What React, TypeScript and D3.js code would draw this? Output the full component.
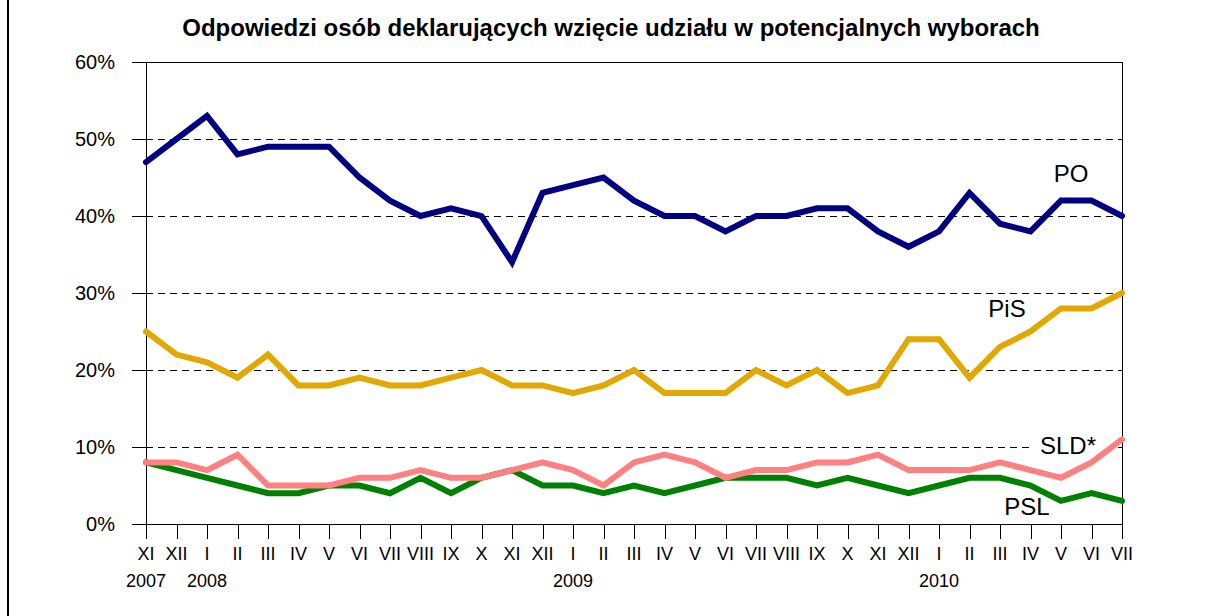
import React from "react";
import * as d3 from "d3";

const months = ["XI","XII","I","II","III","IV","V","VI","VII","VIII","IX","X","XI","XII","I","II","III","IV","V","VI","VII","VIII","IX","X","XI","XII","I","II","III","IV","V","VI","VII"];
const years = [
  { index: 0, label: "2007" },
  { index: 2, label: "2008" },
  { index: 14, label: "2009" },
  { index: 26, label: "2010" },
];
const PO = [47,50,53,48,49,49,49,45,42,40,41,40,34,43,44,45,42,40,40,38,40,40,41,41,38,36,38,43,39,38,42,42,40];
const PiS = [25,22,21,19,22,18,18,19,18,18,19,20,18,18,17,18,20,17,17,17,20,18,20,17,18,24,24,19,23,25,28,28,30];
const SLD = [8,8,7,9,5,5,5,6,6,7,6,6,7,8,7,5,8,9,8,6,7,7,8,8,9,7,7,7,8,7,6,8,11];
const PSL = [8,7,6,5,4,4,5,5,4,6,4,6,7,5,5,4,5,4,5,6,6,6,5,6,5,4,5,6,6,5,3,4,3];
const yTicks = [0, 10, 20, 30, 40, 50, 60];

const series = [
  { name: "PO", values: PO, color: "#000080", label: { x: 1071, y: 182 } },
  { name: "PiS", values: PiS, color: "#E0A800", label: { x: 1007, y: 317 } },
  { name: "PSL", values: PSL, color: "#008000", label: { x: 1027, y: 515 } },
  { name: "SLD*", values: SLD, color: "#FF8080", label: { x: 1068, y: 454 } },
];

const W = 1220, H = 616;
const left = 146, right = 1122, top = 62, bottom = 524;
const font = "'Liberation Sans', Arial, sans-serif";

export default function App() {
  const x = d3.scaleLinear().domain([0, months.length - 1]).range([left, right]);
  const y = d3.scaleLinear().domain([0, 60]).range([bottom, top]);
  const line = d3.line<number>().x((_, i) => x(i)).y((d) => y(d));
  const c = (v: number) => Math.round(v) + 0.5;

  return (
    <svg width={W} height={H} style={{ position: "absolute", left: 0, top: 0, background: "#fff" }} fontFamily={font}>
      <rect x={0} y={0} width={W} height={H} fill="#fff" />
      <line x1={8} x2={8} y1={0} y2={H} stroke="#000" strokeWidth={2} />
      <text x={611} y={36} textAnchor="middle" fontSize={24} fontWeight="bold" fill="#000">
        Odpowiedzi osób deklarujących wzięcie udziału w potencjalnych wyborach
      </text>
      {yTicks.filter((t) => t > 0 && t < 60).map((t) => (
        <line key={"g" + t} x1={left} x2={right} y1={c(y(t))} y2={c(y(t))} stroke="#000" strokeWidth={1} strokeDasharray="7,5" />
      ))}
      <rect x={1034} y={434} width={80} height={24} fill="#fff" />
      <rect x={c(left)} y={c(top)} width={right - left} height={bottom - top} fill="none" stroke="#000" strokeWidth={1} />
      {yTicks.map((t) => (
        <g key={"y" + t}>
          <line x1={left - 14} x2={left} y1={c(y(t))} y2={c(y(t))} stroke="#000" strokeWidth={1} />
          <text x={115} y={y(t)} dy="0.35em" textAnchor="end" fontSize={20} fill="#000">{t + "%"}</text>
        </g>
      ))}
      {months.map((m, i) => (
        <g key={"x" + i}>
          <line x1={c(x(i))} x2={c(x(i))} y1={bottom} y2={bottom + 15} stroke="#000" strokeWidth={1} />
          <text x={x(i)} y={560} textAnchor="middle" fontSize={18} fill="#000">{m}</text>
        </g>
      ))}
      {years.map((yr) => (
        <text key={yr.label} x={x(yr.index)} y={587} textAnchor="middle" fontSize={18} fill="#000">{yr.label}</text>
      ))}
      {series.map((s) => (
        <path key={s.name} d={line(s.values) || ""} fill="none" stroke={s.color} strokeWidth={6} strokeLinecap="round" strokeLinejoin="miter" />
      ))}
      {series.map((s) => (
        <text key={"l" + s.name} x={s.label.x} y={s.label.y} textAnchor="middle" fontSize={24} fill="#000">{s.name}</text>
      ))}
    </svg>
  );
}
